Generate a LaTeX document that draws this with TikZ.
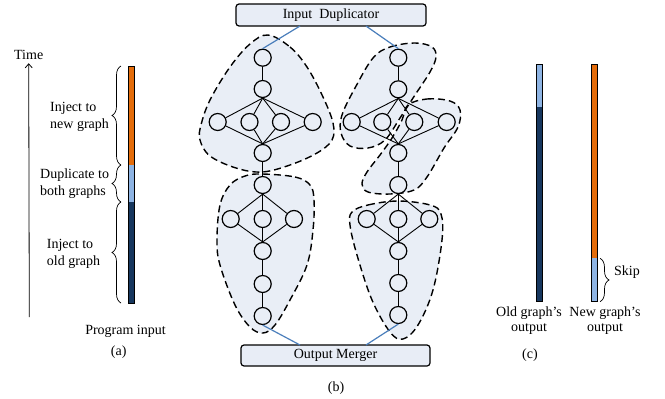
\documentclass[tikz,border=0pt]{standalone}
\usepackage{fontspec}
\setmainfont{Liberation Serif}
\usetikzlibrary{decorations.pathreplacing,arrows.meta}
\definecolor{blobfill}{RGB}{233,238,246}
\definecolor{boxfill}{RGB}{232,237,246}
\definecolor{orng}{RGB}{228,108,10}
\definecolor{ltblue}{RGB}{142,180,227}
\definecolor{dkblue}{RGB}{23,55,94}
\definecolor{linkblue}{RGB}{74,126,187}
\begin{document}
\begin{tikzpicture}[x=1pt,y=-1pt,font=\fontsize{14}{17}\selectfont,
  gnode/.style={circle,draw,line width=1.2pt,minimum size=17pt,inner sep=0pt,fill=blobfill},
  edge/.style={line width=0.9pt},
  blobline/.style={line width=1.4pt,dash pattern=on 7pt off 4pt},
  box/.style={draw,rounded corners=3pt,line width=1.2pt,fill=boxfill,inner sep=0pt},
  link/.style={linkblue,line width=1.2pt},
  bar/.style={draw=black,line width=0.6pt},
  mybrace/.style={decorate,decoration={brace,amplitude=9pt},line width=0.7pt},
  lbl/.style={inner sep=0pt,align=left,anchor=west},
  smooth blob/.style={smooth cycle,tension=0.6}]
\useasboundingbox (0,0) rectangle (665,399);

% ---------------- panel (a)
\node (time) at (28.7,55) {Time};
\coordinate (t0) at (29.3,317);
\draw[line width=0.8pt,-{Straight Barb[length=4pt,width=7pt]}] (t0) -- (time.south);
\fill[orng] (128.5,66) rectangle (134.5,165);
\fill[ltblue] (128.5,165) rectangle (134.5,202);
\fill[dkblue] (128.5,202) rectangle (134.5,303);
\draw[bar] (128.5,66) rectangle (134.5,303);
\draw[mybrace] (121,165) -- (121,66);
\draw[mybrace] (121,202) -- (121,165);
\draw[mybrace] (121,303) -- (121,202);
\node[lbl] (la1) at (50,116.5) {Inject to\\new graph};
\node[lbl] (la2) at (40,183.5) {Duplicate to\\both graphs};
\node[lbl] (la3) at (46.7,253.5) {Inject to\\old graph};
\node (pin) at (125.5,331.7) {Program input};
\node (capa) at (118.7,351.7) {(a)};

% ---------------- panel (b): blob fills
\fill[blobfill] plot[smooth blob] coordinates {(268,35) (290,47) (307,67) (323,97) (333,123) (332,140) (317,153) (290,165) (262,172) (236,168) (210,156) (200,140) (201,125) (210,100) (230,67) (250,44)};
\fill[blobfill] plot[smooth blob] coordinates {(262,174) (295,177) (310,185) (314,200) (313,230) (307,265) (290,300) (275,325) (263,333) (250,327) (235,305) (220,265) (217,240) (220,205) (230,185) (245,176)};
\fill[blobfill] plot[smooth blob] coordinates {(373,58) (390,47) (415,43) (432,47) (436,57) (430,72) (415,95) (400,118) (385,140) (368,148) (350,146) (341,133) (342,115) (355,88)};
\fill[blobfill] plot[smooth blob] coordinates {(408,105) (427,99) (450,101) (460,110) (458,127) (444,148) (427,177) (414,190) (390,194) (368,192) (362,184) (367,172) (380,155) (392,138) (402,120)};
\fill[blobfill] plot[smooth blob] coordinates {(352,212) (368,205) (398,201) (430,205) (441,214) (442,240) (433,290) (418,325) (403,339) (390,332) (372,300) (357,255) (350,225)};
% blob outlines
\draw[blobline] plot[smooth blob] coordinates {(268,35) (290,47) (307,67) (323,97) (333,123) (332,140) (317,153) (290,165) (262,172) (236,168) (210,156) (200,140) (201,125) (210,100) (230,67) (250,44)};
\draw[blobline] plot[smooth blob] coordinates {(262,174) (295,177) (310,185) (314,200) (313,230) (307,265) (290,300) (275,325) (263,333) (250,327) (235,305) (220,265) (217,240) (220,205) (230,185) (245,176)};
\draw[blobline] plot[smooth blob] coordinates {(373,58) (390,47) (415,43) (432,47) (436,57) (430,72) (415,95) (400,118) (385,140) (368,148) (350,146) (341,133) (342,115) (355,88)};
\draw[blobline] plot[smooth blob] coordinates {(408,105) (427,99) (450,101) (460,110) (458,127) (444,148) (427,177) (414,190) (390,194) (368,192) (362,184) (367,172) (380,155) (392,138) (402,120)};
\draw[blobline] plot[smooth blob] coordinates {(352,212) (368,205) (398,201) (430,205) (441,214) (442,240) (433,290) (418,325) (403,339) (390,332) (372,300) (357,255) (350,225)};

% boxes
\node[box,minimum width=190pt,minimum height=22pt] (ID) at (331,15) {Input\ \ Duplicator};
\node[box,minimum width=189pt,minimum height=21pt] (OM) at (335.5,355.5) {Output Merger};

% left graph nodes
\node[gnode] (L1) at (262.7,57.7) {};
\node[gnode] (L2) at (262.7,89) {};
\node[gnode] (L3a) at (217.7,122) {};
\node[gnode] (L3b) at (249.5,122) {};
\node[gnode] (L3c) at (281,122) {};
\node[gnode] (L3d) at (312.7,122) {};
\node[gnode] (L4) at (262.7,153) {};
\node[gnode] (L5) at (262.7,185) {};
\node[gnode] (L6a) at (230.7,219) {};
\node[gnode] (L6b) at (262.7,219) {};
\node[gnode] (L6c) at (294,219) {};
\node[gnode] (L7) at (262.7,251) {};
\node[gnode] (L8) at (262.7,284) {};
\node[gnode] (L9) at (262.7,316) {};
% right graph nodes
\node[gnode] (R1) at (398.3,57.7) {};
\node[gnode] (R2) at (398.3,89.3) {};
\node[gnode] (R3a) at (351.7,122) {};
\node[gnode] (R3b) at (382.3,122) {};
\node[gnode] (R3c) at (414.3,122) {};
\node[gnode] (R3d) at (446.7,122) {};
\node[gnode] (R4) at (398.3,153) {};
\node[gnode] (R5) at (398.3,185) {};
\node[gnode] (R6a) at (366.7,219) {};
\node[gnode] (R6b) at (398.3,219) {};
\node[gnode] (R6c) at (429.3,219) {};
\node[gnode] (R7) at (398.3,251) {};
\node[gnode] (R8) at (398.3,283) {};
\node[gnode] (R9) at (398.3,315) {};

% edges
\foreach \g in {L,R}{
  \draw[edge] (\g1) -- (\g2);
  \foreach \n in {a,b,c,d}{
    \draw[edge] (\g2.south) -- (\g3\n);
    \draw[edge] (\g3\n) -- (\g4.north);
  }
  \draw[edge] (\g4) -- (\g5);
  \foreach \n in {a,b,c}{
    \draw[edge] (\g5.south) -- (\g6\n);
    \draw[edge] (\g6\n) -- (\g7.north);
  }
  \draw[edge] (\g7) -- (\g8);
  \draw[edge] (\g8) -- (\g9);
}

% blue links
\coordinate (ida) at (300,26);
\coordinate (idb) at (366,26);
\coordinate (oma) at (300,345);
\coordinate (omb) at (366,345);
\draw[link] (ida) -- (L1.north);
\draw[link] (idb) -- (R1.north);
\draw[link] (L9.south) -- (oma);
\draw[link] (R9.south) -- (omb);
\node (capb) at (336,388) {(b)};

% ---------------- panel (c)
\fill[ltblue] (536.7,64) rectangle (542.7,106.7);
\fill[dkblue] (536.7,106.7) rectangle (542.7,301.7);
\draw[bar] (536.7,64) rectangle (542.7,301.7);
\fill[orng] (591,64) rectangle (597,258.3);
\fill[ltblue] (591,258.3) rectangle (597,301.7);
\draw[bar] (591,64) rectangle (597,301.7);
\draw[mybrace] (600,258.3) -- (600,301.7);
\node[lbl] (skip) at (614,272) {Skip};
\node[align=center] (oldo) at (529,320.5) {Old graph's\\[-1.5pt]output};
\node[align=center] (newo) at (605,320.5) {New graph's\\[-1.5pt]output};
\node (capc) at (530,355) {(c)};
\end{tikzpicture}
\end{document}
